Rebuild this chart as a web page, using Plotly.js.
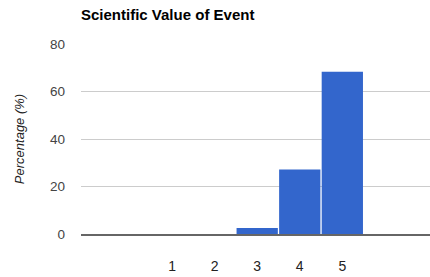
<!DOCTYPE html>
<html><head><meta charset="utf-8">
<script src="https://cdn.plot.ly/plotly-3.0.1.min.js"></script>
<style>html,body{margin:0;padding:0;background:#fff}#chart{width:430px;height:277px}</style>
</head><body><div id="chart"></div>
<script>
const categories = [1, 2, 3, 4, 5];
const percentages = [0, 0, 2.5, 27.2, 68.3];
const yTicks = [0, 20, 40, 60, 80];

Plotly.newPlot('chart', [{
  type: 'bar',
  x: categories,
  y: percentages,
  marker: {color: '#3366cc', line: {width: 0}},
  hoverinfo: 'none'
}], {
  width: 430, height: 277,
  margin: {l: 81, r: 0, t: 44, b: 43},
  paper_bgcolor: '#fff', plot_bgcolor: '#fff',
  bargap: 0.03,
  showlegend: false,
  title: {text: '<b>Scientific Value of Event</b>', x: 81/430, xanchor: 'left', y: 1 - 20/277, yanchor: 'bottom',
    font: {family: 'Liberation Sans, Arial', size: 15, color: '#000'}},
  xaxis: {range: [-1.14, 7.06], tickvals: categories, ticktext: categories.map(String),
    showgrid: false, zeroline: false, showline: true, linecolor: '#666', linewidth: 2,
    ticks: '', ticklabelstandoff: 18,
    tickfont: {family: 'Liberation Sans, Arial', size: 14, color: '#222'}},
  yaxis: {range: [0, 80], tickvals: yTicks, showgrid: true, gridcolor: '#cccccc', gridwidth: 1,
    zeroline: false, showline: false, ticks: '',
    ticklabelstandoff: 15,
    tickfont: {family: 'Liberation Sans, Arial', size: 13.5, color: '#444'},
    title: {text: '<i>Percentage (%)</i>', standoff: 22, font: {family: 'Liberation Sans, Arial', size: 13, color: '#222'}}}
}, {staticPlot: true, displayModeBar: false});
</script></body></html>
